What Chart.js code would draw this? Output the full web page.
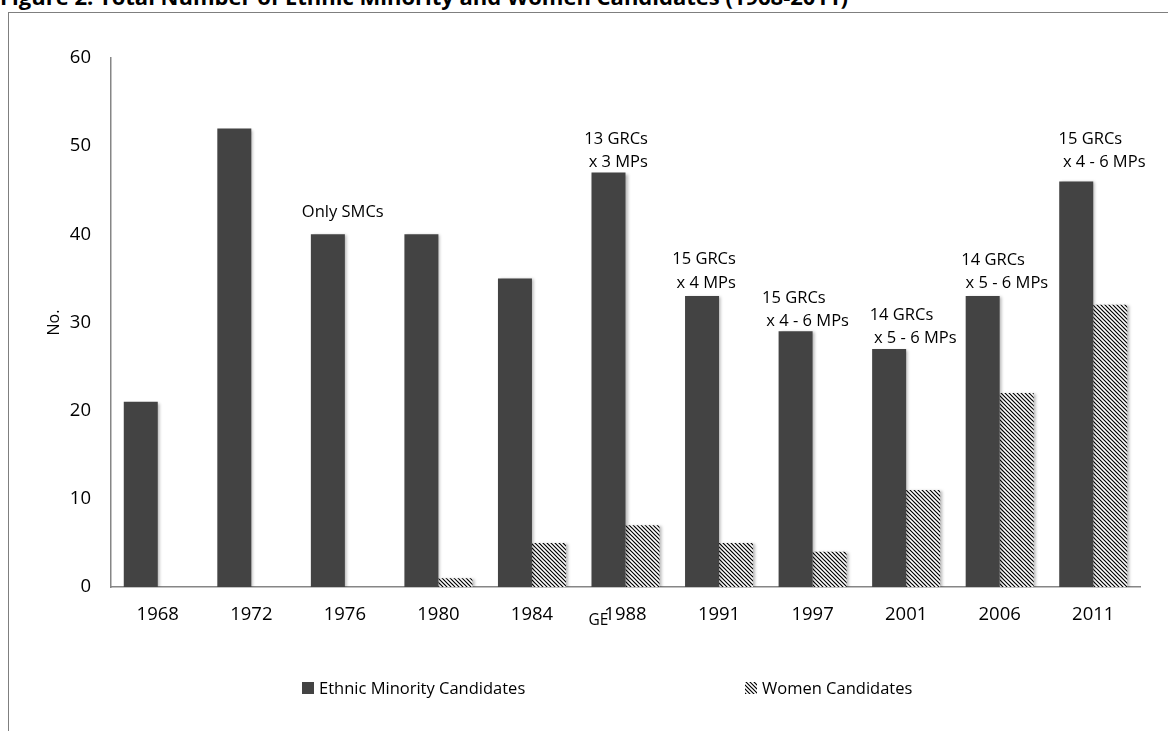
<!DOCTYPE html>
<html>
<head>
<meta charset="utf-8">
<script src="https://cdn.jsdelivr.net/npm/chart.js@4.4.1/dist/chart.umd.min.js"></script>
<style>
  html, body { margin: 0; padding: 0; background: #fff; overflow: hidden; }
  #wrap { position: relative; width: 1168px; height: 731px; overflow: hidden; }
  #title { position: absolute; left: 0; top: -19px; font: bold 22px "Open Sans", sans-serif; color: #000; white-space: nowrap; }
  #frame { position: absolute; left: 8px; top: 12px; width: 2000px; height: 2000px; border: 1.5px solid #7f7f7f; }
  #chart { position: absolute; left: 0; top: 0; }
</style>
</head>
<body>
<div id="wrap">
  <div id="title">Figure 2: Total Number of Ethnic Minority and Women Candidates (1968-2011)</div>
  <div id="frame"></div>
  <canvas id="chart" width="1168" height="731"></canvas>
</div>
<script>
const years = ["1968", "1972", "1976", "1980", "1984", "1988", "1991", "1997", "2001", "2006", "2011"];
const ethnicMinority = [21, 52, 40, 40, 35, 47, 33, 29, 27, 33, 46];
const women = [0, 0, 0, 1, 5, 7, 5, 4, 11, 22, 32];
const yTicks = [0, 10, 20, 30, 40, 50, 60];

// notes written over the bars: category, left offset (in category widths), y value of each line
const noteCategory = [2, 5, 6, 7, 8, 9, 10];
const noteOffset = [-0.46, -0.44, -0.5, -0.54, -0.39, -0.41, -0.37];
const noteLines = [
  ["Only SMCs"],
  ["13 GRCs", " x 3 MPs"],
  ["15 GRCs", " x 4 MPs"],
  ["15 GRCs", " x 4 - 6 MPs"],
  ["14 GRCs", " x 5 - 6 MPs"],
  ["14 GRCs", " x 5 - 6 MPs"],
  ["15 GRCs", " x 4 - 6 MPs"]
];
const noteY = [
  [42.5],
  [50.8, 48.2],
  [37.2, 34.5],
  [32.7, 30.1],
  [30.8, 28.2],
  [37.1, 34.5],
  [50.8, 48.2]
];

const FONT = "Open Sans";
const darkGray = "#434343";

function makeHatch() {
  const c = document.createElement("canvas");
  c.width = 8; c.height = 8;
  const g = c.getContext("2d");
  g.fillStyle = "#fff";
  g.fillRect(0, 0, 8, 8);
  g.strokeStyle = "#000";
  g.lineWidth = 1.2;
  g.beginPath();
  for (let k = -8; k <= 8; k += 4) {
    g.moveTo(-1, k - 1);
    g.lineTo(9, k + 9);
  }
  g.stroke();
  return g.createPattern(c, "repeat");
}
const hatch = makeHatch();

const barShadow = {
  id: "barShadow",
  beforeDatasetsDraw(chart) {
    const ctx = chart.ctx;
    ctx.save();
    ctx.shadowColor = "rgba(0,0,0,0.28)";
    ctx.shadowBlur = 3;
    ctx.shadowOffsetX = 2;
    ctx.shadowOffsetY = 1;
  },
  afterDatasetsDraw(chart) {
    chart.ctx.restore();
  }
};

const notes = {
  id: "notes",
  afterDraw(chart) {
    const ctx = chart.ctx;
    const x = chart.scales.x, y = chart.scales.y;
    const catW = x.width / years.length;
    ctx.save();
    ctx.fillStyle = "#000";
    ctx.font = "16.5px " + FONT;
    ctx.textAlign = "left";
    ctx.textBaseline = "middle";
    noteCategory.forEach((cat, i) => {
      const left = x.getPixelForValue(cat) + noteOffset[i] * catW;
      noteLines[i].forEach((t, j) => {
        ctx.fillText(t, left, y.getPixelForValue(noteY[i][j]));
      });
    });
    // axis title "GE" sits just left of centre, overlapping the tick row
    ctx.textAlign = "center";
    ctx.font = "15.5px " + FONT;
    ctx.fillText("GE", (x.left + x.right) / 2 - 27, x.top + 34);

    // legend
    ctx.font = "16.5px " + FONT;
    const ly = x.top + 102;
    const items = [
      { left: 302, fill: darkGray, text: "Ethnic Minority Candidates" },
      { left: 745, fill: hatch, text: "Women Candidates" }
    ];
    ctx.textAlign = "left";
    items.forEach(it => {
      ctx.fillStyle = it.fill;
      ctx.fillRect(it.left, ly - 7, 12, 12);
      ctx.fillStyle = "#000";
      ctx.fillText(it.text, it.left + 17, ly);
    });
    ctx.restore();
  }
};

new Chart(document.getElementById("chart"), {
  type: "bar",
  data: {
    labels: years,
    datasets: [
      { label: "Ethnic Minority Candidates", data: ethnicMinority, backgroundColor: darkGray },
      { label: "Women Candidates", data: women, backgroundColor: hatch }
    ]
  },
  options: {
    responsive: false,
    animation: false,
    devicePixelRatio: 1,
    layout: { padding: { left: 41, right: 28, top: 58, bottom: 0 } },
    datasets: { bar: { categoryPercentage: 0.727, barPercentage: 1.0 } },
    plugins: { legend: { display: false }, tooltip: { enabled: false } },
    scales: {
      x: {
        grid: { display: false, drawTicks: false },
        border: { display: true, color: "#868686", width: 1.5 },
        ticks: { color: "#000", font: { family: FONT, size: 18.5 }, padding: 17, maxRotation: 0 },
        afterFit(scale) { scale.height = 144; }
      },
      y: {
        min: 0, max: 60,
        afterBuildTicks(scale) { scale.ticks = yTicks.map(v => ({ value: v })); },
        grid: { display: false, drawTicks: false },
        border: { display: true, color: "#868686", width: 1.5 },
        ticks: { color: "#000", font: { family: FONT, size: 18.5 }, padding: 20 },
        title: { display: true, text: "No.", color: "#000", font: { family: FONT, size: 16 }, padding: 4 },
        afterFit(scale) { scale.width = 70; }
      }
    }
  },
  plugins: [barShadow, notes]
});
</script>
</body>
</html>
